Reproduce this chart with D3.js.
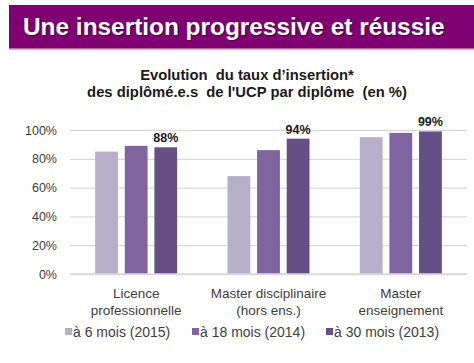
<!DOCTYPE html>
<html>
<head>
<meta charset="utf-8">
<script src="https://cdn.jsdelivr.net/npm/d3@7"></script>
<style>
  body { margin: 0; background: #fff; }
  text { font-family: "Liberation Sans", Arial, sans-serif; }
</style>
</head>
<body>
<div id="main-container"></div>
<script>
// DATA
const categories = [["Licence", "professionnelle"], ["Master disciplinaire", "(hors ens.)"], ["Master", "enseignement"]];
const series = ["à 6 mois (2015)", "à 18 mois (2014)", "à 30 mois (2013)"];
const values = [
    [85, 89, 88],   // Licence professionnelle
    [68, 86, 94],   // Master disciplinaire
    [95, 98, 99]    // Master enseignement
];
const highlight = ["88%", "94%", "99%"];
const yTicks = [0, 20, 40, 60, 80, 100];

const colours = d3.scaleOrdinal()
    .domain(series)
    .range(["#b7aec9", "#8063a1", "#664f85"]);

const W = 474, H = 363;
const margin = {top: 130, right: 7, bottom: 89, left: 70},
    width = W - margin.left - margin.right,
    height = H - margin.top - margin.bottom;

let root = d3.select("#main-container")
    .append("svg")
        .attr("width", W)
        .attr("height", H);

// BANNER
root.append("rect")
    .attr("x", 9).attr("y", 5)
    .attr("width", W - 9).attr("height", 43)
    .attr("fill", "#7f0070");
root.append("rect")
    .attr("x", 9).attr("y", 48)
    .attr("width", W - 9).attr("height", 1.5)
    .attr("fill", "#b767a9");
root.append("text")
    .attr("x", 23).attr("y", 35)
    .attr("fill", "#4a0040")
    .attr("font-size", "24.4px").attr("font-weight", "bold")
    .attr("transform", "translate(1,1)")
    .text("Une insertion progressive et réussie");
root.append("text")
    .attr("x", 23).attr("y", 35)
    .attr("fill", "#fff")
    .attr("font-size", "24.4px").attr("font-weight", "bold")
    .text("Une insertion progressive et réussie");

// CHART TITLE
root.append("text")
    .attr("x", 247).attr("y", 80)
    .attr("text-anchor", "middle")
    .attr("fill", "#1a1a1a")
    .attr("font-size", "14.8px").attr("font-weight", "bold")
    .style("white-space", "pre")
    .text("Evolution  du taux d’insertion*");
root.append("text")
    .attr("x", 247).attr("y", 97)
    .attr("text-anchor", "middle")
    .attr("fill", "#1a1a1a")
    .attr("font-size", "14.8px").attr("font-weight", "bold")
    .style("white-space", "pre")
    .text("des diplômé.e.s  de l'UCP par diplôme  (en %)");

let svg = root.append("g")
    .attr("transform", `translate(${margin.left}, ${margin.top})`);

let x0 = d3.scaleBand()
    .domain(d3.range(categories.length))
    .range([0, width])
    .padding(0);

let x1 = d3.scaleBand()
    .domain(series)
    .range([0, x0.bandwidth()])
    .paddingInner(0.23)
    .paddingOuter(0.85);

let y = d3.scaleLinear()
    .domain([0, 100])
    .range([height, 0]);

// GRID + Y AXIS
svg.append("g")
    .attr("id", "y-axis")
    .call(d3.axisLeft(y).tickValues(yTicks).tickSize(-width).tickFormat(d => d + "%"))
    .call(g => g.select(".domain").remove())
    .call(g => g.selectAll(".tick line").attr("stroke", "#d9d9d9").attr("stroke-width", 1.3))
    .call(g => g.selectAll(".tick text")
        .attr("x", -13)
        .attr("fill", "#404040")
        .attr("font-size", "12.5px")
        .attr("font-family", "Liberation Sans, Arial, sans-serif"));

// BARS
let groups = svg.selectAll(".group")
    .data(values)
    .enter()
    .append("g")
        .attr("class", "group")
        .attr("transform", (d, i) => `translate(${x0(i)}, 0)`);

groups.selectAll("rect")
    .data(d => d.map((v, j) => ({s: series[j], v: v})))
    .enter()
    .append("rect")
        .attr("x", d => x1(d.s))
        .attr("y", d => y(d.v))
        .attr("width", x1.bandwidth())
        .attr("height", d => height - y(d.v))
        .attr("fill", d => colours(d.s));

// VALUE LABELS on last series
groups.append("text")
    .attr("x", x1(series[2]) + x1.bandwidth() / 2)
    .attr("y", (d) => y(d[2]) - 5)
    .attr("text-anchor", "middle")
    .attr("fill", "#1a1a1a")
    .attr("font-size", "12.5px").attr("font-weight", "bold")
    .text((d, i) => highlight[i]);

// X LABELS
groups.each(function (d, i) {
    let t = d3.select(this).append("text")
        .attr("text-anchor", "middle")
        .attr("fill", "#404040")
        .attr("font-size", "13.5px");
    categories[i].forEach((line, k) => {
        t.append("tspan")
            .attr("x", x0.bandwidth() / 2)
            .attr("y", height + 24 + k * 16.5)
            .text(line);
    });
});

// AXIS BASELINE
svg.append("line")
    .attr("x1", 0).attr("x2", width)
    .attr("y1", height).attr("y2", height)
    .attr("stroke", "#d9d9d9").attr("stroke-width", 1.3);

// LEGEND
const legendX = [65, 192, 326];
let legend = root.selectAll(".legend")
    .data(series)
    .enter()
    .append("g")
        .attr("class", "legend")
        .attr("transform", (d, i) => `translate(${legendX[i]}, 332)`);
legend.append("rect")
    .attr("x", 0).attr("y", -4)
    .attr("width", 7).attr("height", 7)
    .attr("fill", d => colours(d));
legend.append("text")
    .attr("x", 8).attr("y", 4.5)
    .attr("fill", "#404040")
    .attr("font-size", "14px")
    .text(d => d);
</script>
</body>
</html>
